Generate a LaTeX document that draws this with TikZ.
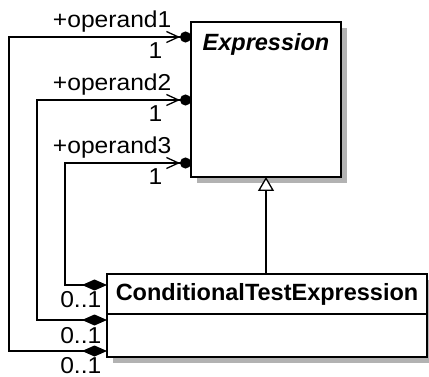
\documentclass[tikz,border=0pt]{standalone}
\usepackage{fontspec}
\setmainfont{Liberation Sans}
\newfontfamily\rolefont[FakeStretch=1.07]{Liberation Sans}
\usetikzlibrary{positioning,arrows.meta,shadows}
\tikzset{
classbox/.style={draw, line width=1.8pt, fill=white, inner sep=0pt, outer sep=0pt,
  drop shadow={shadow xshift=6pt, shadow yshift=-6pt, fill=black!30, opacity=1}},
assoc/.style={line width=1.3pt,
  {Diamond[length=25pt,width=11pt]}-{Straight Barb[length=12pt,width=11pt] Circle[length=11pt]}},
generalization/.style={line width=1.3pt, -{Triangle[open,fill=white,length=14pt,width=16pt]}},
rolelabel/.style={font=\rolefont\fontsize{23}{27}\selectfont, inner sep=0pt}
}

\begin{document}
\begin{tikzpicture}[x=1pt, y=-1pt]
\useasboundingbox (0,0) rectangle (429,377);

% classes
\node[classbox, anchor=north west, minimum width=150pt, minimum height=155pt] (expr) at (191,22) {};
\node[anchor=base, inner sep=0pt, font=\fontsize{23.5}{28}\selectfont\bfseries\itshape] (exprname) at ([yshift=-29pt]expr.north) {Expression};

\node[classbox, anchor=north west, minimum width=320pt, minimum height=40pt,
  font=\fontsize{23.5}{28}\selectfont\bfseries] (condhead) at (107,274) {ConditionalTestExpression};
\node[classbox, below=0pt of condhead, minimum width=320pt, minimum height=43pt] (condbody) {};

% generalization
\draw[generalization] (condhead.north -| expr.south) -- (expr.south);

% operands
\draw[assoc] ([yshift=-11pt]condhead.north west)
  node[rolelabel, anchor=base east, xshift=-5pt, yshift=-23pt] {0..1}
  -- ++(-42,0) |- ([yshift=-141pt]expr.north west)
  node[rolelabel, anchor=base east, xshift=-19pt, yshift=9pt] {+operand3}
  node[rolelabel, anchor=base east, xshift=-28pt, yshift=-22pt] {1};
\draw[assoc] ([yshift=-6pt]condbody.north west)
  node[rolelabel, anchor=base east, xshift=-5pt, yshift=-23pt] {0..1}
  -- ++(-70,0) |- ([yshift=-78pt]expr.north west)
  node[rolelabel, anchor=base east, xshift=-19pt, yshift=9pt] {+operand2}
  node[rolelabel, anchor=base east, xshift=-28pt, yshift=-22pt] {1};
\draw[assoc] ([yshift=-37pt]condbody.north west)
  node[rolelabel, anchor=base east, xshift=-5pt, yshift=-22pt] {0..1}
  -- ++(-98,0) |- ([yshift=-15pt]expr.north west)
  node[rolelabel, anchor=base east, xshift=-19pt, yshift=9pt] {+operand1}
  node[rolelabel, anchor=base east, xshift=-28pt, yshift=-22pt] {1};

\end{tikzpicture}
\end{document}
